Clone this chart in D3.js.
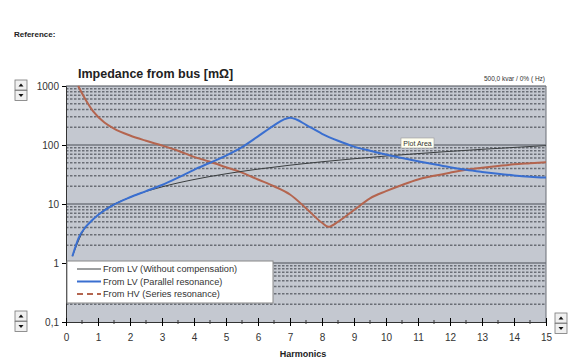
<!DOCTYPE html>
<html><head><meta charset="utf-8">
<script src="https://cdn.jsdelivr.net/npm/d3@7"></script>
<style>body{margin:0;background:#fff;}svg{display:block;font-family:"Liberation Sans",Arial,sans-serif;}</style>
</head><body>
<svg id="c" width="582" height="362"></svg>
<script>
const xTicks = [0,1,2,3,4,5,6,7,8,9,10,11,12,13,14,15];
const yTicks = [0.1,1,10,100,1000];
const seriesNames = ["From LV (Without compensation)","From LV (Parallel resonance)","From HV (Series resonance)"];
// From LV (Without compensation)
const lvH = [0.2,0.5,1,2,3,4,5,6,7,8,9,10,11,12,13,14,15];
const lvZ = [1.3,3.2,6.5,13,19.5,26,32.5,39,45.5,52,58.5,65,71.5,78,84.5,91,97.5];
// From LV (Parallel resonance)
const parH = [0.2,0.4,0.6,0.8,1,1.5,2,2.5,3,3.5,4,4.5,5,5.5,6,6.5,6.8,7,7.2,7.5,8,8.5,9,9.5,10,10.5,11,11.5,12,12.5,13,13.5,14,14.5,15];
const parZ = [1.3,2.7,4,5.2,6.5,9.8,13,16.5,21,28,38,50,66,92,140,215,270,290,270,220,155,118,94,80,69,60,53,47,42,38,35,32.5,30.5,29,28];
// From HV (Series resonance)
const serH = [0.38,0.6,0.85,1.2,1.5,2,2.5,3,3.5,4,4.5,5,5.5,6,6.5,7,7.5,8,8.2,8.5,9,9.5,10,10.5,11,11.5,12,12.5,13,13.5,14,14.5,15];
const serZ = [1000,600,370,240,190,145,118,98,80,63,52,42,34,26,20,14.5,8.5,4.8,4.1,5,7.9,12.5,16.5,21,26,30,34,38,41,44,47,49,51];

const svg = d3.select("#c");
const L=66,R=546,T=86,B=322;
const x = d3.scaleLinear().domain([0,15]).range([L,R]);
const y = d3.scaleLog().domain([0.1,1000]).range([B,T]);

svg.append("text").attr("x",14).attr("y",37).attr("font-size",8).attr("font-weight","bold").attr("fill","#222").text("Reference:");
svg.append("text").attr("x",78).attr("y",78).attr("font-size",12.5).attr("font-weight","bold").attr("fill","#222").text("Impedance from bus [mΩ]");
svg.append("text").attr("x",545).attr("y",81).attr("text-anchor","end").attr("font-size",6.5).attr("fill","#333").text("500,0 kvar / 0% ( Hz)");

// plot area
svg.append("rect").attr("x",L).attr("y",T).attr("width",R-L).attr("height",B-T).attr("fill","#c4c8d0");

// minor gridlines
const minor=[];
[0.1,1,10,100].forEach(d=>{for(let k=2;k<=9;k++) minor.push(d*k);});
svg.append("g").selectAll("line").data(minor).join("line")
 .attr("x1",L).attr("x2",R).attr("y1",d=>y(d)).attr("y2",d=>y(d))
 .attr("stroke","#6a6e76").attr("stroke-width",1.5).attr("stroke-dasharray","2.5,1.5");
// major gridlines
svg.append("g").selectAll("line").data([1,10,100,1000]).join("line")
 .attr("x1",L).attr("x2",R).attr("y1",d=>y(d)).attr("y2",d=>y(d))
 .attr("stroke","#4a4e56").attr("stroke-width",1);
svg.append("line").attr("x1",R).attr("x2",R).attr("y1",T).attr("y2",B).attr("stroke","#6a6e76");

// curves
const line = d3.line().x(d=>x(d[0])).y(d=>y(d[1])).curve(d3.curveMonotoneX);
svg.append("path").datum(serH.map((h,i)=>[h,serZ[i]])).attr("d",line).attr("fill","none").attr("stroke","#b4654f").attr("stroke-width",2);
svg.append("path").datum(lvH.map((h,i)=>[h,lvZ[i]])).attr("d",line).attr("fill","none").attr("stroke","#3a3e40").attr("stroke-width",1);
svg.append("path").datum(parH.map((h,i)=>[h,parZ[i]])).attr("d",line).attr("fill","none").attr("stroke","#3a6fd0").attr("stroke-width",2);

// axes
const fmt = d=>String(d).replace(".",",");
const ya = svg.append("g").attr("transform",`translate(${L},0)`).call(d3.axisLeft(y).tickValues(yTicks).tickFormat(fmt).tickSize(4));
ya.select(".domain").attr("stroke","#333");
ya.selectAll("text").attr("font-size",10).attr("fill","#333").attr("font-family","Liberation Sans, Arial, sans-serif");
const xa = svg.append("g").attr("transform",`translate(0,${B})`).call(d3.axisBottom(x).tickValues(xTicks).tickFormat(d3.format("d")).tickSize(4).tickPadding(8));
xa.select(".domain").attr("stroke","#333");
xa.selectAll(".tick line").attr("y1",-4);
xa.selectAll("text").attr("font-size",10).attr("fill","#333").attr("font-family","Liberation Sans, Arial, sans-serif");
const halves = xTicks.slice(0,-1).map(v=>v+0.5);
svg.append("g").selectAll("line").data(halves).join("line")
 .attr("x1",d=>x(d)).attr("x2",d=>x(d)).attr("y1",B-2).attr("y2",B+2).attr("stroke","#333");
svg.append("text").attr("x",303).attr("y",357).attr("text-anchor","middle").attr("font-size",9).attr("font-weight","bold").attr("fill","#222").text("Harmonics");

// legend
const lg = svg.append("g");
lg.append("rect").attr("x",67).attr("y",261).attr("width",206).attr("height",42).attr("fill","#fff").attr("stroke","#888");
const lstyles=[{c:"#3a3e40",w:1,da:null},{c:"#3a6fd0",w:2,da:null},{c:"#b4654f",w:2,da:"6,4"}];
seriesNames.forEach((n,i)=>{
  const yy=269+i*12.5;
  lg.append("line").attr("x1",77).attr("x2",101).attr("y1",yy).attr("y2",yy).attr("stroke",lstyles[i].c).attr("stroke-width",lstyles[i].w).attr("stroke-dasharray",lstyles[i].da);
  lg.append("text").attr("x",103).attr("y",yy+3.3).attr("font-size",9.2).attr("fill","#333").text(n);
});

// Plot Area tooltip
svg.append("rect").attr("x",401).attr("y",138).attr("width",33).attr("height",10).attr("fill","#fffff0").attr("stroke","#999").attr("stroke-width",0.6);
svg.append("text").attr("x",417.5).attr("y",146).attr("text-anchor","middle").attr("font-size",7).attr("fill","#333").text("Plot Area");

// spinner buttons
function spinner(x0,y0){
  const g=svg.append("g");
  [0,1].forEach(i=>{
    g.append("rect").attr("x",x0).attr("y",y0+i*10.5).attr("width",12).attr("height",10).attr("fill","#f0f0f0").attr("stroke","#777").attr("stroke-width",0.8);
    const cx=x0+6, cy=y0+i*10.5+5;
    const p = i===0 ? `M${cx-2.5},${cy+1.5}L${cx+2.5},${cy+1.5}L${cx},${cy-1.5}Z` : `M${cx-2.5},${cy-1.5}L${cx+2.5},${cy-1.5}L${cx},${cy+1.5}Z`;
    g.append("path").attr("d",p).attr("fill","#111");
  });
}
spinner(15,80); spinner(15,311); spinner(555,313);
</script>
</body></html>
